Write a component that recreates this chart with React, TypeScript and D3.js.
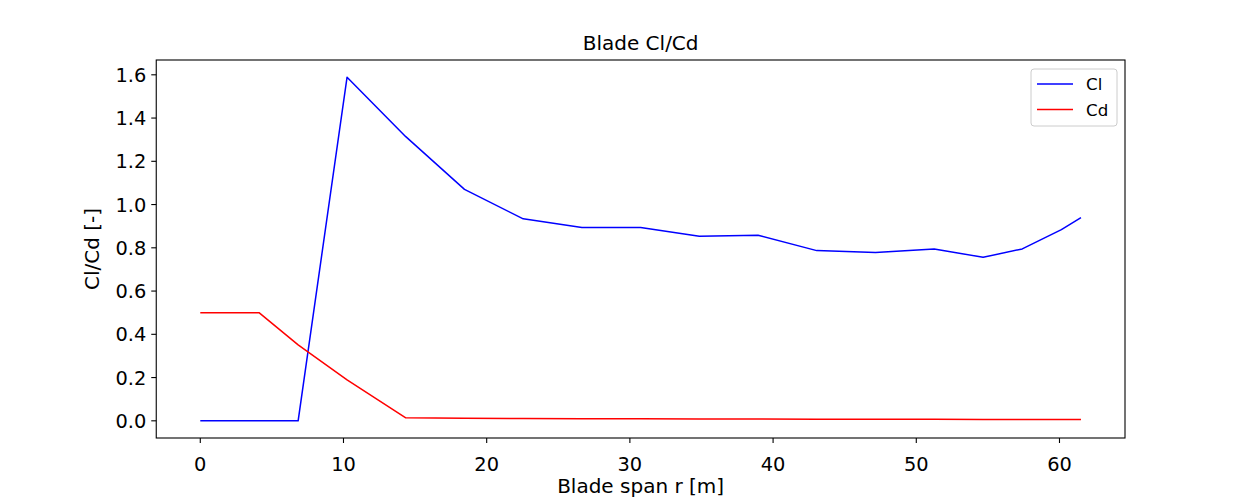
import React from "react";
import * as d3 from "d3";

const spanR = [0, 1.3667, 4.1, 6.8333, 10.25, 14.35, 18.45, 22.55, 26.65, 30.75, 34.85, 38.95, 43.05, 47.15, 51.25, 54.6667, 57.4, 60.1333, 61.5];
const clValues = [0, 0, 0, 0, 1.589, 1.314, 1.07, 0.934, 0.894, 0.894, 0.853, 0.858, 0.787, 0.778, 0.795, 0.756, 0.795, 0.884, 0.94];
const cdValues = [0.5, 0.5, 0.5, 0.351, 0.189, 0.014, 0.012, 0.011, 0.01, 0.009, 0.008, 0.008, 0.007, 0.007, 0.007, 0.006, 0.006, 0.006, 0.006];
const xTicks = [0, 10, 20, 30, 40, 50, 60];
const yTicks = [0, 0.2, 0.4, 0.6, 0.8, 1.0, 1.2, 1.4, 1.6];
const seriesNames = ["Cl", "Cd"];
const seriesColors = ["blue", "red"];

const W = 1250, H = 500;
const L = 156.25, R = 1125, T = 60, B = 438;
const FONT = "DejaVu Sans, sans-serif";
const TICK_FS = 19.4;
const LABEL_FS = 20;
const TITLE_FS = 20;
const LEGEND_FS = 16.67;

export default function App() {
  const xMin = d3.min(spanR)!, xMax = d3.max(spanR)!;
  const xPad = (xMax - xMin) * 0.05;
  const allY = [...clValues, ...cdValues];
  const yMin = d3.min(allY)!, yMax = d3.max(allY)!;
  const yPad = (yMax - yMin) * 0.05;
  const x = d3.scaleLinear().domain([xMin - xPad, xMax + xPad]).range([L, R]);
  const y = d3.scaleLinear().domain([yMin - yPad, yMax + yPad]).range([B, T]);
  const line = d3.line<[number, number]>().x(d => x(d[0])).y(d => y(d[1]));
  const series = [clValues, cdValues];

  return (
    <div style={{ position: "absolute", left: 0, top: 0 }}>
      <svg width={W} height={H} style={{ display: "block", background: "white" }} fontFamily={FONT}>
        <rect x={0} y={0} width={W} height={H} fill="white" />
        {series.map((vals, i) => (
          <path key={i} d={line(spanR.map((r, j) => [r, vals[j]]))!} fill="none" stroke={seriesColors[i]} strokeWidth={1.5} strokeLinejoin="round" />
        ))}
        <rect x={L} y={T} width={R - L} height={B - T} fill="none" stroke="black" strokeWidth={1.1} />
        {xTicks.map(t => (
          <g key={t}>
            <line x1={x(t)} x2={x(t)} y1={B} y2={B + 5} stroke="black" strokeWidth={1.1} />
            <text x={x(t)} y={B + 33} textAnchor="middle" fontSize={TICK_FS} fill="black">{t}</text>
          </g>
        ))}
        {yTicks.map(t => (
          <g key={t}>
            <line x1={L - 5} x2={L} y1={y(t)} y2={y(t)} stroke="black" strokeWidth={1.1} />
            <text x={L - 10} y={y(t)} dy="0.36em" textAnchor="end" fontSize={TICK_FS} fill="black">{t.toFixed(1)}</text>
          </g>
        ))}
        <text x={(L + R) / 2} y={493} textAnchor="middle" fontSize={LABEL_FS} fill="black">Blade span r [m]</text>
        <text transform={`translate(99,${(T + B) / 2}) rotate(-90)`} textAnchor="middle" fontSize={LABEL_FS} fill="black">Cl/Cd [-]</text>
        <text x={(L + R) / 2} y={50} textAnchor="middle" fontSize={TITLE_FS} fill="black">Blade Cl/Cd</text>
        <g>
          <rect x={1031} y={69} width={86} height={57} rx={3} fill="white" fillOpacity={0.8} stroke="#cccccc" strokeWidth={1} />
          {seriesNames.map((n, i) => (
            <g key={n}>
              <line x1={1037} x2={1073} y1={84 + i * 25.5} y2={84 + i * 25.5} stroke={seriesColors[i]} strokeWidth={1.5} />
              <text x={1086} y={84 + i * 25.5} dy="0.36em" fontSize={LEGEND_FS} fill="black">{n}</text>
            </g>
          ))}
        </g>
      </svg>
    </div>
  );
}
